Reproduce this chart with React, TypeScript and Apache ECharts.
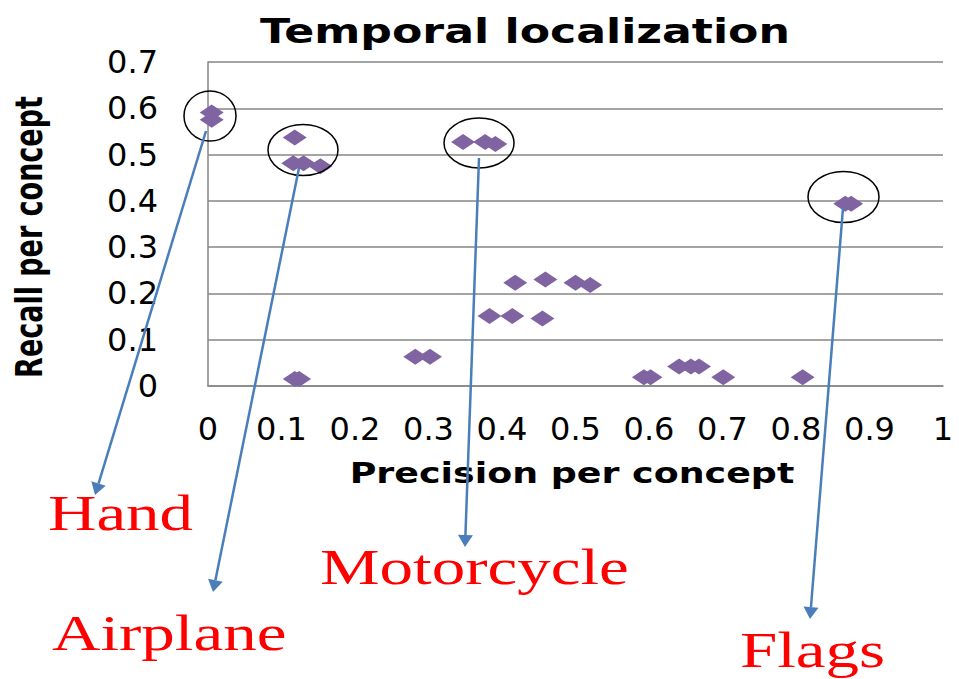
import React, { useEffect, useRef } from "react";
import * as echarts from "echarts";

const precision = [0.005, 0.005, 0.118, 0.116, 0.130, 0.153, 0.347, 0.377, 0.391, 0.867, 0.875, 0.118, 0.124, 0.282, 0.302, 0.383, 0.414, 0.455, 0.418, 0.459, 0.500, 0.520, 0.593, 0.602, 0.641, 0.657, 0.668, 0.701, 0.809];
const recall = [0.591, 0.575, 0.537, 0.481, 0.481, 0.475, 0.527, 0.527, 0.523, 0.394, 0.394, 0.015, 0.015, 0.063, 0.063, 0.151, 0.151, 0.146, 0.223, 0.230, 0.223, 0.218, 0.019, 0.019, 0.042, 0.042, 0.042, 0.019, 0.019];

const labels = ["Hand", "Airplane", "Motorcycle", "Flags"];
const labelPos: [number, number][] = [[48, 513], [52, 633], [320, 567], [740, 650]];
const circles: [number, number, number, number][] = [[210, 116, 26, 25], [303, 150, 35, 25.5], [479, 143, 35, 25], [843.5, 197, 35.5, 25.5]];
const arrows: [number, number, number, number][] = [[206, 131, 95, 495], [299, 168, 213, 592], [479, 158, 465, 547], [843, 208, 810, 619]];

const BLUE = "#4A7EBB";

function arrowEls(a: [number, number, number, number]) {
  const [x1, y1, x2, y2] = a;
  const dx = x2 - x1, dy = y2 - y1;
  const len = Math.sqrt(dx * dx + dy * dy);
  const ux = dx / len, uy = dy / len;
  const nx = -uy, ny = ux;
  const L = 12, W = 15;
  const bx = x2 - ux * L, by = y2 - uy * L;
  return [
    { type: "line", z: 100, shape: { x1, y1, x2: bx, y2: by }, style: { stroke: BLUE, lineWidth: 2.5 } },
    { type: "polygon", z: 100, shape: { points: [[x2, y2], [bx + nx * W / 2, by + ny * W / 2], [bx - nx * W / 2, by - ny * W / 2]] }, style: { fill: BLUE } },
  ];
}

export default function App() {
  const ref = useRef<HTMLDivElement>(null);
  useEffect(() => {
    const chart = echarts.init(ref.current!, null, { renderer: "svg" });
    const data = precision.map((x, i) => [x, recall[i]]);
    const graphic: any[] = [
      { type: "text", z: 100, x: 525, y: 31, scaleX: 1.3, style: { text: "Temporal localization", font: "bold 34px 'DejaVu Sans'", fill: "#000", align: "center", verticalAlign: "middle" } },
      { type: "text", z: 100, x: 572, y: 474, scaleX: 1.3, style: { text: "Precision per concept", font: "bold 28px 'DejaVu Sans'", fill: "#000", align: "center", verticalAlign: "middle" } },
      { type: "text", z: 100, x: 29, y: 237, rotation: Math.PI / 2, scaleY: 1.4, style: { text: "Recall per concept", font: "bold 27px 'DejaVu Sans'", fill: "#000", align: "center", verticalAlign: "middle" } },
    ];
    labels.forEach((t, i) => {
      graphic.push({ type: "text", z: 100, x: labelPos[i][0], y: labelPos[i][1], scaleX: 1.34, style: { text: t, font: "50px 'Liberation Serif'", fill: "#FF0000", align: "left", verticalAlign: "middle" } });
    });
    circles.forEach((c) => {
      graphic.push({ type: "ellipse", z: 100, shape: { cx: c[0], cy: c[1], rx: c[2], ry: c[3] }, style: { fill: "none", stroke: "#000", lineWidth: 1.5 } });
    });
    arrows.forEach((a) => graphic.push(...arrowEls(a)));

    chart.setOption({
      animation: false,
      backgroundColor: "#fff",
      grid: { left: 208, top: 62, width: 735, height: 324 },
      xAxis: {
        type: "value", min: 0, max: 1, interval: 0.1,
        axisLine: { show: true, lineStyle: { color: "#868686", width: 1.5 } },
        axisTick: { show: false },
        splitLine: { show: false },
        axisLabel: { fontFamily: "DejaVu Sans", fontSize: 32, color: "#000", margin: 27, formatter: (v: number) => String(Math.round(v * 10) / 10) },
      },
      yAxis: {
        type: "value", min: 0, max: 0.7, interval: 0.1,
        axisLine: { show: true, lineStyle: { color: "#868686", width: 1.5 } },
        axisTick: { show: false },
        splitLine: { show: true, lineStyle: { color: "#868686", width: 1.5 } },
        axisLabel: { fontFamily: "DejaVu Sans", fontSize: 32, color: "#000", margin: 50, formatter: (v: number) => String(Math.round(v * 10) / 10) },
      },
      series: [{
        type: "scatter", data, symbol: "diamond", symbolSize: [24, 16],
        itemStyle: { color: "#8064A2", opacity: 1 }, clip: false,
      }],
      graphic,
    });
    return () => chart.dispose();
  }, []);
  return <div ref={ref} style={{ position: "fixed", left: 0, top: 0, width: 959, height: 679 }} />;
}
